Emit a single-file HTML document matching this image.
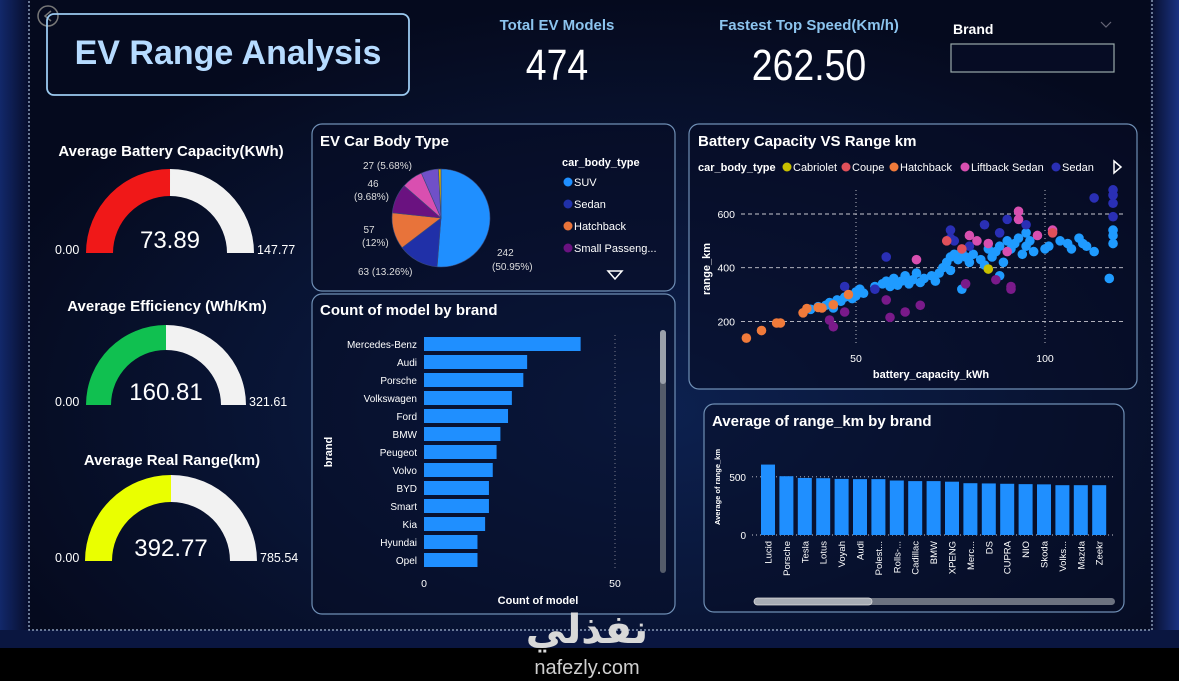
<!DOCTYPE html>
<html><head><meta charset="utf-8"><style>
html,body{margin:0;padding:0;background:#050a1e;}
svg{display:block;font-family:"Liberation Sans","Noto Sans CJK SC",sans-serif;}
</style></head><body>
<svg id="s" width="1179" height="681" viewBox="0 0 1179 681" xmlns="http://www.w3.org/2000/svg">
<defs>
<linearGradient id="side" x1="0" x2="1" y1="0" y2="0">
<stop offset="0" stop-color="#12286a"/><stop offset="1" stop-color="#070d2a"/></linearGradient>
<linearGradient id="sideR" x1="1" x2="0" y1="0" y2="0">
<stop offset="0" stop-color="#1a3382"/><stop offset="1" stop-color="#070d2a"/></linearGradient>
<radialGradient id="glow" cx="0.55" cy="0.6" r="0.6"><stop offset="0" stop-color="#0d2150"/><stop offset="1" stop-color="#050a1e"/></radialGradient>
</defs>
<rect x="0" y="0" width="1179" height="681" fill="url(#glow)"/>
<rect x="0" y="0" width="30" height="648" fill="url(#side)"/>
<rect x="1150" y="0" width="29" height="648" fill="url(#sideR)"/>
<rect x="0" y="630" width="1179" height="18" fill="#0a1640"/>
<rect x="29" y="-5" width="1123" height="635" fill="none" stroke="#8a9bb8" stroke-width="1.5" stroke-dasharray="2 2"/>
<rect x="0" y="648" width="1179" height="33" fill="#000"/>

<!-- header -->
<circle cx="48" cy="16" r="10" fill="none" stroke="#777" stroke-width="1.5"/>
<path d="M51 11 L45 16 L51 21" fill="none" stroke="#777" stroke-width="1.5"/>
<rect x="47" y="14" width="362" height="81" rx="7" fill="none" stroke="#9ccaf0" stroke-width="1.8"/>
<text x="228" y="64" text-anchor="middle" font-size="34" font-weight="bold" fill="#b6dbff">EV Range Analysis</text>

<text x="557" y="30" text-anchor="middle" font-size="15" font-weight="bold" fill="#8cc4ee">Total EV Models</text>
<text x="557" y="80" text-anchor="middle" font-size="44" fill="#fff" transform="translate(557 0) scale(0.85 1) translate(-557 0)">474</text>
<text x="809" y="30" text-anchor="middle" font-size="15" font-weight="bold" fill="#8cc4ee">Fastest Top Speed(Km/h)</text>
<text x="809" y="80" text-anchor="middle" font-size="44" fill="#fff" transform="translate(809 0) scale(0.85 1) translate(-809 0)">262.50</text>

<text x="953" y="34" font-size="14" font-weight="bold" fill="#fff">Brand</text>
<path d="M1101 22 L1106 27 L1111 22" fill="none" stroke="#667" stroke-width="1.2"/>
<rect x="951" y="44" width="163" height="28" fill="#060c24" stroke="#9aa" stroke-width="1.2"/>

<!-- gauges -->
<g id="gauges"></g>

<!-- panels -->
<rect x="312" y="124" width="363" height="167" rx="10" fill="#060c24" fill-opacity="0.6" stroke="#6f8fb5" stroke-width="1.2"/>
<rect x="312" y="294" width="363" height="320" rx="10" fill="#060c24" fill-opacity="0.5" stroke="#6f8fb5" stroke-width="1.2"/>
<rect x="689" y="124" width="448" height="265" rx="10" fill="#060c24" fill-opacity="0.6" stroke="#6f8fb5" stroke-width="1.2"/>
<rect x="704" y="404" width="420" height="208" rx="10" fill="#060c24" fill-opacity="0.5" stroke="#6f8fb5" stroke-width="1.2"/>

<text x="320" y="146" font-size="15" font-weight="bold" fill="#fff">EV Car Body Type</text>
<text x="320" y="315" font-size="15" font-weight="bold" fill="#fff">Count of model by brand</text>
<text x="698" y="146" font-size="15" font-weight="bold" fill="#fff">Battery Capacity VS Range km</text>
<text x="712" y="426" font-size="15" font-weight="bold" fill="#fff">Average of range_km by brand</text>

<g id="pie"></g>
<g id="count"></g>
<g id="scatter"></g>
<g id="range"></g>

<text x="587" y="643" text-anchor="middle" font-size="40" font-weight="bold" fill="#d8d8d8" font-family="'DejaVu Sans',sans-serif">نفذلي</text>
<text x="587" y="674" text-anchor="middle" font-size="20" fill="#cfcfcf">nafezly.com</text>
</svg>
<script>
const NS="http://www.w3.org/2000/svg";
function mk(p,tag,at,txt){const e=document.createElementNS(NS,tag);for(const k in at)e.setAttribute(k,at[k]);if(txt!==undefined)e.textContent=txt;p.appendChild(e);return e;}

// ---------- gauges ----------
const gaugeTitles=["Average Battery Capacity(KWh)","Average Efficiency (Wh/Km)","Average Real Range(km)"];
const gaugeValues=[73.89,160.81,392.77];
const gaugeMax=[147.77,321.61,785.54];
const gaugeColors=["#f01818","#10c050","#eaff00"];
const gaugeGeom=[[170,253,84,57,151],[166,405,80,55,306],[171,561,86,59,460]];
const G=document.getElementById('gauges');
function arcPath(cx,cy,R,r,a0,a1){
 const p=(rad,a)=>[cx+rad*Math.cos(a),cy-rad*Math.sin(a)];
 const [x0,y0]=p(R,a0),[x1,y1]=p(R,a1),[x2,y2]=p(r,a1),[x3,y3]=p(r,a0);
 return `M${x0} ${y0} A${R} ${R} 0 0 1 ${x1} ${y1} L${x2} ${y2} A${r} ${r} 0 0 0 ${x3} ${y3}Z`;
}
for(let i=0;i<3;i++){
 const [cx,cy,R,r,ty]=gaugeGeom[i];
 const t=mk(G,'text',{x:cx+1,y:ty+5,'text-anchor':'middle','font-size':15,'font-weight':'bold',fill:'#fff'},gaugeTitles[i]);
 
 
 const frac=gaugeValues[i]/gaugeMax[i];
 const aMid=Math.PI*(1-frac);
 const bg=mk(G,'path',{d:arcPath(cx,cy,R,r,aMid,0),fill:'#f2f2f2'});
 
 
 const fg=mk(G,'path',{d:arcPath(cx,cy,R,r,Math.PI,aMid),fill:gaugeColors[i]});
 
 
 const v=mk(G,'text',{x:cx,y:cy-5,'text-anchor':'middle','font-size':24,fill:'#fff'},gaugeValues[i].toFixed(2));
 
 
 const mn=mk(G,'text',{x:55,y:cy+1,'font-size':12.5,fill:'#fff'},"0.00");
 
 
 const mx=mk(G,'text',{x:cx+R+3,y:cy+1,'font-size':12.5,fill:'#fff'},gaugeMax[i].toFixed(2));
 
 
}

// ---------- pie ----------
const pieCats=["SUV","Sedan","Hatchback","Small Passenger","Liftback Sedan","Coupe","Cabriolet"];
const pieVals=[242,63,57,46,33,27,4];
const pieColors=["#1f8fff","#2030a8","#e8733a","#6a1280","#d94fb0","#7050c8","#d8b000"];
const P=document.getElementById('pie');
(function(){
 const cx=441,cy=218,R=49;const tot=pieVals.reduce((a,b)=>a+b,0);let a=-Math.PI/2;
 pieVals.forEach((v,i)=>{const s=v/tot*2*Math.PI;const a1=a+s;
  const x0=cx+R*Math.cos(a),y0=cy+R*Math.sin(a),x1=cx+R*Math.cos(a1),y1=cy+R*Math.sin(a1);
  const sl=mk(P,'path',{d:`M${cx} ${cy}L${x0} ${y0}A${R} ${R} 0 ${s>Math.PI?1:0} 1 ${x1} ${y1}Z`,fill:pieColors[i],stroke:'#3a4a7a','stroke-width':0.6});
  
  
  a=a1;});
 const labs=[["242",497,256,"start"],["(50.95%)",492,270,"start"],["63 (13.26%)",358,275,"start"],["57",369,233,"middle"],["(12%)",362,246,"start"],["46",373,187,"middle"],["(9.68%)",354,200,"start"],["27 (5.68%)",363,169,"start"]];
 labs.forEach(l=>{const t=mk(P,'text',{x:l[1],y:l[2],'font-size':10,fill:'#ddd','text-anchor':l[3]},l[0]);
  
  });
 const lt=mk(P,'text',{x:562,y:166,'font-size':11,'font-weight':'bold',fill:'#fff'},"car_body_type");
 
 
 ["SUV","Sedan","Hatchback","Small Passeng..."].forEach((n,i)=>{
  const y=182+i*22;
  const c=mk(P,'circle',{cx:568,cy:y,r:4.5,fill:pieColors[i]});
  
  
  const t=mk(P,'text',{x:574,y:y+4,'font-size':11,fill:'#fff'},n);
  
  });
 const ar=mk(P,'path',{d:"M608 271 L622 271 L615 279Z",fill:'none',stroke:'#fff','stroke-width':1.5});
 
 
})();

// ---------- count by brand ----------
const brands=["Mercedes-Benz","Audi","Porsche","Volkswagen","Ford","BMW","Peugeot","Volvo","BYD","Smart","Kia","Hyundai","Opel"];
const brandCounts=[41,27,26,23,22,20,19,18,17,17,16,14,14];
const countTicks=[0,50];
const C=document.getElementById('count');
(function(){
 const x=v=>424+v*3.82;const y=i=>344+i*18;
 const gl=mk(C,'line',{x1:x(50),x2:x(50),y1:335,y2:570,stroke:'#778','stroke-dasharray':'1 3'});
 
 
 brands.forEach((b,i)=>{
  const r=mk(C,'rect',{x:x(0),y:y(i)-7,width:x(brandCounts[i])-x(0),height:14,fill:'#1f8fff'});
  
  
  const t=mk(C,'text',{x:417,y:y(i)+4,'text-anchor':'end','font-size':10,fill:'#fff'},b);
  
  });
 countTicks.forEach(v=>{const t=mk(C,'text',{x:x(v),y:587,'text-anchor':'middle','font-size':10.5,fill:'#fff'},String(v));
  
  });
 const xt=mk(C,'text',{x:538,y:604,'text-anchor':'middle','font-size':11,'font-weight':'bold',fill:'#fff'},"Count of model");
 
 
 const yt=mk(C,'text',{x:0,y:0,'text-anchor':'middle','font-size':11,'font-weight':'bold',fill:'#fff',transform:'translate(332 452) rotate(-90)'},"brand");
 
 
 const sb=mk(C,'rect',{x:660,y:330,width:6,height:243,rx:3,fill:'#555c6a'});
 
 
 const th=mk(C,'rect',{x:660,y:330,width:6,height:54,rx:3,fill:'#9aa0aa'});
 
 
})();

// ---------- scatter ----------
const typeNames=["SUV","Sedan","Hatchback","Small Passenger","Liftback Sedan","Coupe","Cabriolet"];
const typeColors=["#1f9bff","#2a2fb5","#f07a3a","#7a1a8a","#d84fb0","#e0505a","#c8c000"];
const batt=[38,40,42,43,44,45,46,47,48,49,50,50,51,52,55,57,58,59,60,60,61,62,63,64,65,66,67,68,70,71,72,73,74,75,75,76,77,78,79,80,81,83,84,85,86,87,88,89,90,91,92,93,94,95,95,96,97,100,101,104,106,107,109,110,111,113,117,118,118,118,78,88,
 47,55,58,75,76,80,84,88,90,93,95,102,113,118,118,118,118,75,
 21,25,29,30,36,37,40,41,44,48,
 43,44,47,58,59,63,67,79,87,91,91,
 66,80,82,90,93,93,98,102,85,
 74,78,102,85];
const rangeKm=[245,255,260,270,250,280,275,290,300,285,310,295,320,305,330,340,350,330,360,345,335,350,370,340,355,380,345,360,370,350,380,400,420,440,390,450,430,460,440,420,450,430,410,470,440,460,480,420,500,470,490,510,450,530,480,500,460,470,480,500,490,470,510,490,480,460,360,520,540,490,320,370,
 330,320,440,540,500,480,560,530,580,580,560,530,660,640,670,690,590,510,
 138,166,194,194,232,248,252,250,262,300,
 205,180,235,280,215,235,260,340,355,320,330,
 430,520,500,460,610,580,520,540,490,
 500,470,530,395];
const bodyType=[0,0,0,0,0,0,0,0,0,0,0,0,0,0,0,0,0,0,0,0,0,0,0,0,0,0,0,0,0,0,0,0,0,0,0,0,0,0,0,0,0,0,0,0,0,0,0,0,0,0,0,0,0,0,0,0,0,0,0,0,0,0,0,0,0,0,0,0,0,0,0,0,
 1,1,1,1,1,1,1,1,1,1,1,1,1,1,1,1,1,1,
 2,2,2,2,2,2,2,2,2,2,
 3,3,3,3,3,3,3,3,3,3,3,
 4,4,4,4,4,4,4,4,4,
 5,5,5,6];
const sxTicks=[50,100];
const syTicks=[200,400,600];
const S=document.getElementById('scatter');
(function(){
 const x=v=>856+(v-50)*3.78;const y=v=>214-(v-600)*0.2685;
 syTicks.forEach(v=>{const l=mk(S,'line',{x1:741,x2:1124,y1:y(v),y2:y(v),stroke:'#c8c8d0','stroke-dasharray':'4 3','stroke-width':0.9});
  
  
  const t=mk(S,'text',{x:735,y:y(v)+4,'text-anchor':'end','font-size':10.5,fill:'#fff'},String(v));
  
  });
 sxTicks.forEach(v=>{const l=mk(S,'line',{x1:x(v),x2:x(v),y1:190,y2:345,stroke:'#c8c8d0','stroke-dasharray':'1 3','stroke-width':0.9});
  
  
  const t=mk(S,'text',{x:x(v),y:362,'text-anchor':'middle','font-size':10.5,fill:'#fff'},String(v));
  
  });
 batt.forEach((b,i)=>{const c=mk(S,'circle',{cx:x(b),cy:y(rangeKm[i]),r:4.8,fill:typeColors[bodyType[i]]});
  
  });
 const xt=mk(S,'text',{x:931,y:378,'text-anchor':'middle','font-size':11,'font-weight':'bold',fill:'#fff'},"battery_capacity_kWh");
 
 
 const yt=mk(S,'text',{x:0,y:0,'text-anchor':'middle','font-size':11,'font-weight':'bold',fill:'#fff',transform:'translate(710 269) rotate(-90)'},"range_km");
 
 
 const lt=mk(S,'text',{x:698,y:171,'font-size':11,'font-weight':'bold',fill:'#fff'},"car_body_type");
 
 
 const leg=[["Cabriolet",6,792],["Coupe",5,851],["Hatchback",2,899],["Liftback Sedan",4,970],["Sedan",1,1061]];
 leg.forEach(l=>{const c=mk(S,'circle',{cx:l[2]-5,cy:167,r:4.5,fill:typeColors[l[1]]});
  
  
  const t=mk(S,'text',{x:l[2]+1,y:171,'font-size':11,fill:'#fff'},l[0]);
  
  });
 const ar=mk(S,'path',{d:"M1114 161 L1121 167 L1114 173Z",fill:'none',stroke:'#fff','stroke-width':1.5});
 
 
})();

// ---------- avg range by brand ----------
const rangeBrands=["Lucid","Porsche","Tesla","Lotus","Voyah","Audi","Polest...","Rolls-...","Cadillac","BMW","XPENG","Merc...","DS","CUPRA","NIO","Skoda","Volks...","Mazda","Zeekr"];
const rangeAvg=[605,505,490,488,482,480,480,468,463,463,458,445,443,440,437,435,428,428,428];
const rangeTicks=[0,500];
const Rg=document.getElementById('range');
(function(){
 const y=v=>535-v*0.1164;const x=i=>768+i*18.4;
 rangeTicks.forEach(v=>{const l=mk(Rg,'line',{x1:752,x2:1113,y1:y(v),y2:y(v),stroke:'#c8c8d0','stroke-dasharray':'1 3','stroke-width':0.9});
  
  
  const t=mk(Rg,'text',{x:746,y:y(v)+4,'text-anchor':'end','font-size':10,fill:'#fff'},String(v));
  
  });
 rangeBrands.forEach((b,i)=>{
  const r=mk(Rg,'rect',{x:x(i)-7,y:y(rangeAvg[i]),width:14,height:y(0)-y(rangeAvg[i]),fill:'#1f8fff'});
  
  
  const t=mk(Rg,'text',{x:0,y:0,'text-anchor':'end','font-size':9.5,fill:'#fff',transform:`translate(${x(i)+3.5} 541) rotate(-90)`},b);
  
  });
 const yt=mk(Rg,'text',{x:0,y:0,'text-anchor':'middle','font-size':7.5,'font-weight':'bold',fill:'#fff',transform:'translate(720 487) rotate(-90)'},"Average of range_km");
 
 
 const sb=mk(Rg,'rect',{x:754,y:598,width:361,height:7,rx:3.5,fill:'#6c7280'});
 
 
 const th=mk(Rg,'rect',{x:754,y:598,width:118,height:7,rx:3.5,fill:'#a8adb5',stroke:'#ddd','stroke-width':0.8});
 
 
})();
</script>
</body></html>
